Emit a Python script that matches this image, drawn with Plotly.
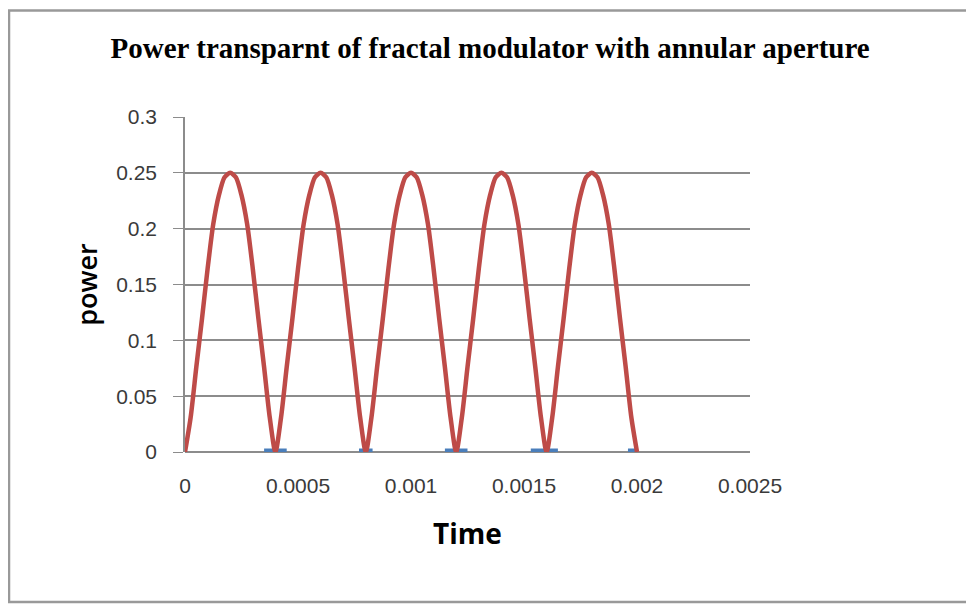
import plotly.graph_objects as go

time = [i * 0.000025 for i in range(81)]
power = [0, 0.031, 0.076, 0.119, 0.164, 0.204, 0.23, 0.246,
         0.25, 0.246, 0.23, 0.204, 0.164, 0.119, 0.076, 0.031,
         0, 0.031, 0.076, 0.119, 0.164, 0.204, 0.23, 0.246,
         0.25, 0.246, 0.23, 0.204, 0.164, 0.119, 0.076, 0.031,
         0, 0.031, 0.076, 0.119, 0.164, 0.204, 0.23, 0.246,
         0.25, 0.246, 0.23, 0.204, 0.164, 0.119, 0.076, 0.031,
         0, 0.031, 0.076, 0.119, 0.164, 0.204, 0.23, 0.246,
         0.25, 0.246, 0.23, 0.204, 0.164, 0.119, 0.076, 0.031,
         0, 0.031, 0.076, 0.119, 0.164, 0.204, 0.23, 0.246,
         0.25, 0.246, 0.23, 0.204, 0.164, 0.119, 0.076, 0.031,
         0]

# second (blue) series only shows as small marks at the minima
blue_time = [0.00035, 0.00045, None, 0.00077, 0.00083, None, 0.00115, 0.00125, None,
             0.00153, 0.00165, None, 0.00196, 0.002]
blue_power = [0.0, 0.0, None, 0.0, 0.0, None, 0.0, 0.0, None,
              0.0, 0.0, None, 0.0, 0.0]

x_ticks = [0, 0.0005, 0.001, 0.0015, 0.002, 0.0025]
x_labels = ["0", "0.0005", "0.001", "0.0015", "0.002", "0.0025"]
y_ticks = [0, 0.05, 0.1, 0.15, 0.2, 0.25, 0.3]
y_labels = ["0", "0.05", "0.1", "0.15", "0.2", "0.25", "0.3"]

fig = go.Figure()
fig.add_trace(go.Scatter(x=blue_time, y=blue_power, mode="lines",
                         line=dict(color="#4a7ebb", width=7), showlegend=False))
fig.add_trace(go.Scatter(x=time, y=power, mode="lines",
                         line=dict(color="#be4b48", width=4.5, shape="spline", smoothing=0.7),
                         showlegend=False))

tick_font = dict(family="Liberation Sans", size=21, color="#3a3a3a")

fig.update_layout(
    width=974, height=604,
    margin=dict(l=177, r=232, t=109, b=160),
    paper_bgcolor="white", plot_bgcolor="white",
    title=dict(text="<b>Power transparnt of fractal modulator with annular aperture</b>",
               font=dict(family="Liberation Serif", size=29, color="black"),
               x=0.495, xanchor="center", y=0.934, yanchor="middle"),
    shapes=[dict(type="rect", xref="paper", yref="paper",
                 x0=-0.3115, x1=1.6, y0=-0.448, y1=1.318,
                 line=dict(color="#999999", width=2.5), layer="below")],
)

fig.update_xaxes(range=[0, 0.0025], tickvals=x_ticks, ticktext=x_labels,
                 showgrid=False, zeroline=False, showline=False,
                 tickfont=tick_font, ticks="", ticklabelstandoff=19,
                 title=dict(text="<b>Time</b>", font=dict(family="Open Sans", size=28, color="black"),
                            standoff=28))
fig.update_yaxes(range=[0, 0.3], tickvals=y_ticks, ticktext=y_labels,
                 showgrid=True, gridcolor="#8c8c8c", gridwidth=1.5,
                 zeroline=True, zerolinecolor="#8c8c8c", zerolinewidth=1.5,
                 showline=True, linecolor="#8c8c8c", linewidth=1.5,
                 ticks="outside", ticklen=10, tickcolor="#8c8c8c",
                 tickfont=tick_font, ticklabelstandoff=12,
                 title=dict(text="power", font=dict(family="Open Sans", size=27, weight=600, color="black"),
                            standoff=11))

fig.write_html("out.html")
